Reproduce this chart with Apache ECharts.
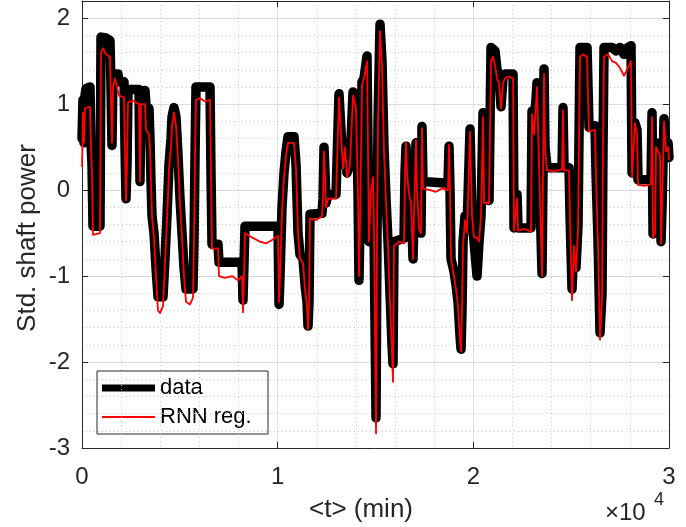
<!DOCTYPE html>
<html>
<head>
<meta charset="utf-8">
<script src="https://cdn.jsdelivr.net/npm/echarts@6/dist/echarts.min.js"></script>
<style>
html,body{margin:0;padding:0;background:#fff;}
#chart{width:686px;height:527px;}
</style>
</head>
<body>
<div id="chart"></div>
<script>
// measured "data" series (time in min, standardized shaft power)
const dataTime = [0,51,102,153,204,409,460,511,562,920,971,1227,1431,1482,1533,1584,1840,1891,2147,2198,2249,2300,2351,2913,2964,3015,3220,3271,3424,3475,3527,3578,3680,3782,3884,4140,4242,4344,4447,4549,4600,4702,4804,4907,5009,5111,5213,5316,5673,5724,5776,5827,6542,6593,6644,6951,7002,8178,8229,8280,8331,10018,10069,10120,10222,10324,10427,10529,10835,10938,11040,11142,11295,11398,11500,11551,11602,11653,12266,12318,12369,12420,12471,12573,12982,13135,13237,13340,13442,13544,13697,13851,14004,14106,14157,14208,14311,14413,14566,14618,14669,14771,14873,14924,15027,15078,15129,15231,15333,15435,15538,15640,15742,15844,15895,15946,16457,16508,16560,16611,16713,16815,16917,16968,17071,17122,17224,17326,17377,17428,18706,18757,18808,18860,19013,19115,19217,19320,19371,19422,19473,19575,19677,19728,19831,19933,20035,20189,20291,20393,20495,20546,20802,20904,21108,21211,21313,21415,21517,21620,22029,22080,22182,22233,22284,22949,23000,23102,23255,23358,23511,23562,23613,23664,23766,24533,24584,24635,24891,24942,25044,25146,25248,25351,25453,25811,25862,25913,26219,26270,26373,26475,26577,26628,26680,27088,27293,27497,27702,27906,28059,28111,28213,28264,28366,28417,29082,29133,29184,29286,29337,29439,29542,29593,29644,29746,29849,29951,30000];
const dataPower = [0.6,1.05,0.55,1.1,1.18,1.2,0.55,0.3,-0.42,-0.42,1.78,1.77,1.74,1.2,0.52,1.35,1.35,1.26,1.26,0.5,-0.1,0.3,1.17,1.17,0.1,1.15,1.16,0.98,0.95,0.6,0.1,-0.3,-0.5,-0.9,-1.24,-1.24,-0.8,-0.3,0.3,0.6,0.85,0.96,0.85,0.4,-0.1,-0.5,-0.9,-1.15,-1.15,-0.6,0.4,1.2,1.2,0.2,-0.63,-0.63,-0.84,-0.84,-1.28,-0.84,-0.42,-0.42,-1.33,-1.0,-0.2,0.2,0.45,0.62,0.62,0.3,-0.5,-0.75,-0.8,-1.1,-1.3,-1.58,-1.3,-0.28,-0.27,-0.1,0.5,0.2,-0.15,-0.05,-0.05,1.12,0.7,0.3,0.55,0.2,0.3,1.14,1.0,0.0,-1.05,-0.4,1.26,1.3,1.56,0.5,-0.6,0.0,0.2,-0.5,-2.65,-0.5,0.8,1.93,1.5,0.5,-0.1,-0.6,-1.2,-1.8,-2.02,-0.6,-0.56,0.2,0.51,0.2,-0.05,-0.1,-0.8,-0.3,0.55,0.0,-0.4,-0.5,0.74,0.1,0.08,0.51,0.0,-0.8,-0.95,-1.1,-1.3,-1.7,-1.85,-1.4,-0.6,-0.3,-0.45,-0.45,0.71,-0.3,-0.6,-1.0,-0.6,-0.3,0.9,-0.1,-0.12,1.66,1.62,1.4,1.35,0.97,1.3,1.35,1.35,-0.44,-0.44,-0.05,-0.44,-0.44,0.92,0.7,1.25,0.3,-0.97,0.2,1.41,0.5,0.26,0.26,0.96,0.26,0.26,-0.3,-1.15,-0.6,-0.9,-0.4,1.66,1.66,1.2,0.73,0.75,0.2,-0.6,-1.66,-1.2,0.5,1.66,1.66,1.62,1.66,1.58,1.66,1.68,0.2,0.2,0.78,0.7,0.12,0.12,0.9,-0.51,-0.45,0.55,0.5,0.45,-0.6,-0.2,0.83,0.5,0.55,0.38];

// "RNN reg." series
const rnnTime = [0,51,102,153,204,409,460,511,562,920,971,1073,1227,1431,1482,1533,1584,1687,1840,1891,2147,2198,2249,2300,2351,2607,2913,2964,3015,3220,3271,3424,3475,3527,3578,3680,3782,3884,3986,4140,4242,4344,4447,4549,4600,4702,4804,4907,5009,5111,5213,5316,5520,5673,5724,5776,5827,6031,6287,6542,6593,6644,6951,7002,7309,7667,7973,8178,8229,8280,8331,8689,9098,9404,9711,10018,10069,10120,10222,10324,10427,10529,10835,10938,11040,11142,11295,11398,11500,11551,11602,11653,11960,12266,12318,12369,12420,12471,12573,12982,13135,13237,13340,13442,13544,13697,13851,14004,14106,14157,14208,14311,14413,14566,14618,14669,14771,14873,14924,15027,15078,15129,15231,15333,15435,15538,15640,15742,15844,15895,15946,16202,16457,16508,16560,16611,16713,16815,16917,16968,17071,17122,17224,17326,17377,17428,17786,18093,18400,18706,18757,18808,18860,19013,19115,19217,19320,19371,19422,19473,19575,19677,19728,19831,19933,20035,20189,20291,20393,20495,20546,20802,20904,21006,21108,21211,21313,21415,21517,21620,21824,22029,22080,22182,22233,22284,22591,22949,23000,23102,23255,23358,23511,23562,23613,23664,23766,24175,24533,24584,24635,24891,24942,25044,25146,25248,25351,25453,25606,25811,25862,25913,26219,26270,26373,26475,26577,26628,26680,26884,27088,27293,27497,27702,27855,28059,28111,28213,28264,28366,28417,28775,29082,29133,29184,29286,29337,29439,29542,29593,29644,29746,29849,29951,30000];
const rnnPower = [0.27,0.9,0.55,0.95,0.97,0.97,0.5,0.2,-0.52,-0.5,1.6,1.65,1.58,1.55,1.0,0.55,1.2,1.3,1.15,1.1,1.08,0.45,-0.12,0.3,1.02,1.04,1.0,0.1,1.0,1.0,0.7,0.65,0.5,0.1,-0.3,-0.55,-1.0,-1.4,-1.43,-1.35,-0.85,-0.35,0.25,0.5,0.75,0.9,0.75,0.35,-0.15,-0.55,-1.0,-1.3,-1.33,-1.25,-0.6,0.4,1.05,1.07,1.03,1.05,0.2,-0.68,-0.68,-1.0,-1.02,-1.0,-1.05,-1.0,-1.42,-1.0,-0.5,-0.55,-0.6,-0.62,-0.58,-0.53,-1.3,-1.0,-0.25,0.15,0.4,0.55,0.55,0.25,-0.5,-0.8,-0.85,-1.15,-1.35,-1.62,-1.3,-0.33,-0.35,-0.3,-0.1,0.45,0.15,-0.2,-0.1,-0.1,1.08,0.65,0.25,0.5,0.15,0.3,1.1,0.95,-0.05,-1.0,-0.4,1.22,1.3,1.5,0.45,-0.6,0.0,0.15,-0.5,-2.83,-0.5,0.8,1.85,1.45,0.45,-0.15,-0.65,-1.3,-1.9,-2.23,-0.65,-0.6,-0.62,0.2,0.55,0.2,-0.05,-0.15,-0.8,-0.3,0.58,0.0,-0.45,-0.5,0.72,0.02,0.0,-0.02,0.02,0.0,0.53,0.0,-0.8,-1.0,-1.15,-1.35,-1.75,-1.88,-1.4,-0.65,-0.35,-0.5,-0.5,0.68,-0.3,-0.55,-0.55,-0.6,-0.3,0.85,-0.15,-0.15,1.5,1.55,1.45,1.3,1.25,0.95,1.25,1.3,1.32,1.3,-0.47,-0.47,-0.1,-0.47,-0.45,-0.48,0.88,0.65,1.2,0.3,-1.0,0.2,1.35,0.5,0.23,0.22,0.24,0.93,0.23,0.23,-0.35,-1.28,-0.65,-0.95,-0.45,1.55,1.58,1.55,1.1,0.68,0.7,0.15,-0.65,-1.74,-1.25,0.5,1.55,1.58,1.5,1.48,1.42,1.33,1.4,1.5,0.15,0.15,0.78,0.65,0.06,0.05,0.07,0.85,-0.55,-0.5,0.5,0.45,0.4,-0.62,-0.2,0.8,0.45,0.5,0.35];

const xTickValues = [0, 10000, 20000, 30000];
const xTickLabels = ['0', '1', '2', '3'];
const yTickValues = [-3, -2, -1, 0, 1, 2];
const yTickLabels = ['-3', '-2', '-1', '0', '1', '2'];
const seriesNames = ['data', 'RNN reg.'];

const FONT = "'Liberation Sans', Arial, Helvetica, sans-serif";
const AX = '#262626';
const BLACK_W = 9.5;
const RED_W = 1.8;

const zip = (a, b) => a.map((v, i) => [v, b[i]]);

const chart = echarts.init(document.getElementById('chart'), null, {renderer: 'canvas'});

const xLabel = v => { const i = xTickValues.indexOf(v); return i >= 0 ? xTickLabels[i] : ''; };
const yLabel = v => { const i = yTickValues.findIndex(t => Math.abs(t - v) < 1e-9); return i >= 0 ? yTickLabels[i] : ''; };

// legend box (drawn as graphic, MATLAB-style)
const LG = {x: 97, y: 371, w: 171, h: 63};
const legendGraphic = {
  type: 'group', z: 100,
  children: [
    {type: 'rect', shape: {x: LG.x, y: LG.y, width: LG.w, height: LG.h},
     style: {fill: '#fff', stroke: AX, lineWidth: 1}},
    {type: 'line', shape: {x1: LG.x + 5, y1: LG.y + 17, x2: LG.x + 58, y2: LG.y + 17},
     style: {stroke: '#000', lineWidth: 7}},
    {type: 'text', x: LG.x + 63, y: LG.y + 17,
     style: {text: seriesNames[0], fontSize: 22, fontFamily: FONT, fill: '#000', verticalAlign: 'middle', align: 'left'}},
    {type: 'line', shape: {x1: LG.x + 5, y1: LG.y + 46, x2: LG.x + 58, y2: LG.y + 46},
     style: {stroke: '#ff0000', lineWidth: 2}},
    {type: 'text', x: LG.x + 63, y: LG.y + 46,
     style: {text: seriesNames[1], fontSize: 22, fontFamily: FONT, fill: '#000', verticalAlign: 'middle', align: 'left'}}
  ]
};

const option = {
  animation: false,
  backgroundColor: '#fff',
  grid: {left: 82, top: 1, width: 587, height: 447, containLabel: false},
  xAxis: [
    {
      type: 'value', min: 0, max: 30000, interval: 10000, position: 'bottom',
      axisLine: {show: true, onZero: false, lineStyle: {color: AX, width: 1}},
      axisTick: {show: true, inside: true, length: 6, lineStyle: {color: AX}},
      axisLabel: {formatter: xLabel, color: AX, fontSize: 24, fontFamily: FONT, margin: 17},
      splitLine: {show: true, lineStyle: {color: '#e1e1e1', width: 1}},
      minorTick: {show: false, splitNumber: 5},
      minorSplitLine: {show: true, lineStyle: {color: '#c8c8c8', width: 1, type: [1, 3]}}
    },
    {
      type: 'value', min: 0, max: 30000, interval: 10000, position: 'top',
      axisLine: {show: true, onZero: false, lineStyle: {color: AX, width: 1}},
      axisTick: {show: true, inside: true, length: 6, lineStyle: {color: AX}},
      axisLabel: {show: false}, splitLine: {show: false}
    }
  ],
  yAxis: [
    {
      type: 'value', min: -3, max: 2.2, interval: 1, position: 'left',
      axisLine: {show: true, onZero: false, lineStyle: {color: AX, width: 1}},
      axisTick: {show: true, inside: true, length: 6, lineStyle: {color: AX}},
      axisLabel: {formatter: yLabel, color: AX, fontSize: 24, fontFamily: FONT, margin: 12},
      splitLine: {show: true, lineStyle: {color: '#e1e1e1', width: 1}}
    },
    {
      type: 'value', min: -3, max: 2.2, interval: 0.2, position: 'right',
      axisLine: {show: false}, axisTick: {show: false}, axisLabel: {show: false},
      splitLine: {show: true, lineStyle: {color: '#c8c8c8', width: 1, type: [1, 3]}}
    },
    {
      type: 'value', min: -3, max: 2.2, interval: 1, position: 'right',
      axisLine: {show: true, onZero: false, lineStyle: {color: AX, width: 1}},
      axisTick: {show: true, inside: true, length: 6, lineStyle: {color: AX}},
      axisLabel: {show: false}, splitLine: {show: false}
    }
  ],
  legend: {show: false},
  graphic: [
    {type: 'text', x: 28, y: 238, rotation: Math.PI / 2,
     style: {text: 'Std. shaft power', fontSize: 26, fontFamily: FONT, fill: AX, align: 'center', verticalAlign: 'middle'}},
    {type: 'text', x: 361, y: 510,
     style: {text: '<t> (min)', fontSize: 26, fontFamily: FONT, fill: AX, align: 'center', verticalAlign: 'middle'}},
    {type: 'text', x: 605, y: 513,
     style: {text: '\u00d710', fontSize: 24, fontFamily: FONT, fill: AX, align: 'left', verticalAlign: 'middle'}},
    {type: 'text', x: 654, y: 500,
     style: {text: '4', fontSize: 18, fontFamily: FONT, fill: AX, align: 'left', verticalAlign: 'middle'}},
    legendGraphic
  ],
  series: [
    {
      name: seriesNames[0], type: 'line', xAxisIndex: 0, yAxisIndex: 0,
      data: zip(dataTime, dataPower), showSymbol: false, symbol: 'none',
      lineStyle: {color: '#000', width: BLACK_W, cap: 'round', join: 'round'},
      itemStyle: {color: '#000'}, z: 3, silent: true
    },
    {
      name: seriesNames[1], type: 'line', xAxisIndex: 0, yAxisIndex: 0,
      data: zip(rnnTime, rnnPower), showSymbol: false, symbol: 'none',
      lineStyle: {color: '#ff0000', width: RED_W, join: 'round'},
      itemStyle: {color: '#ff0000'}, z: 4, silent: true
    }
  ]
};
chart.setOption(option);
</script>
</body>
</html>
